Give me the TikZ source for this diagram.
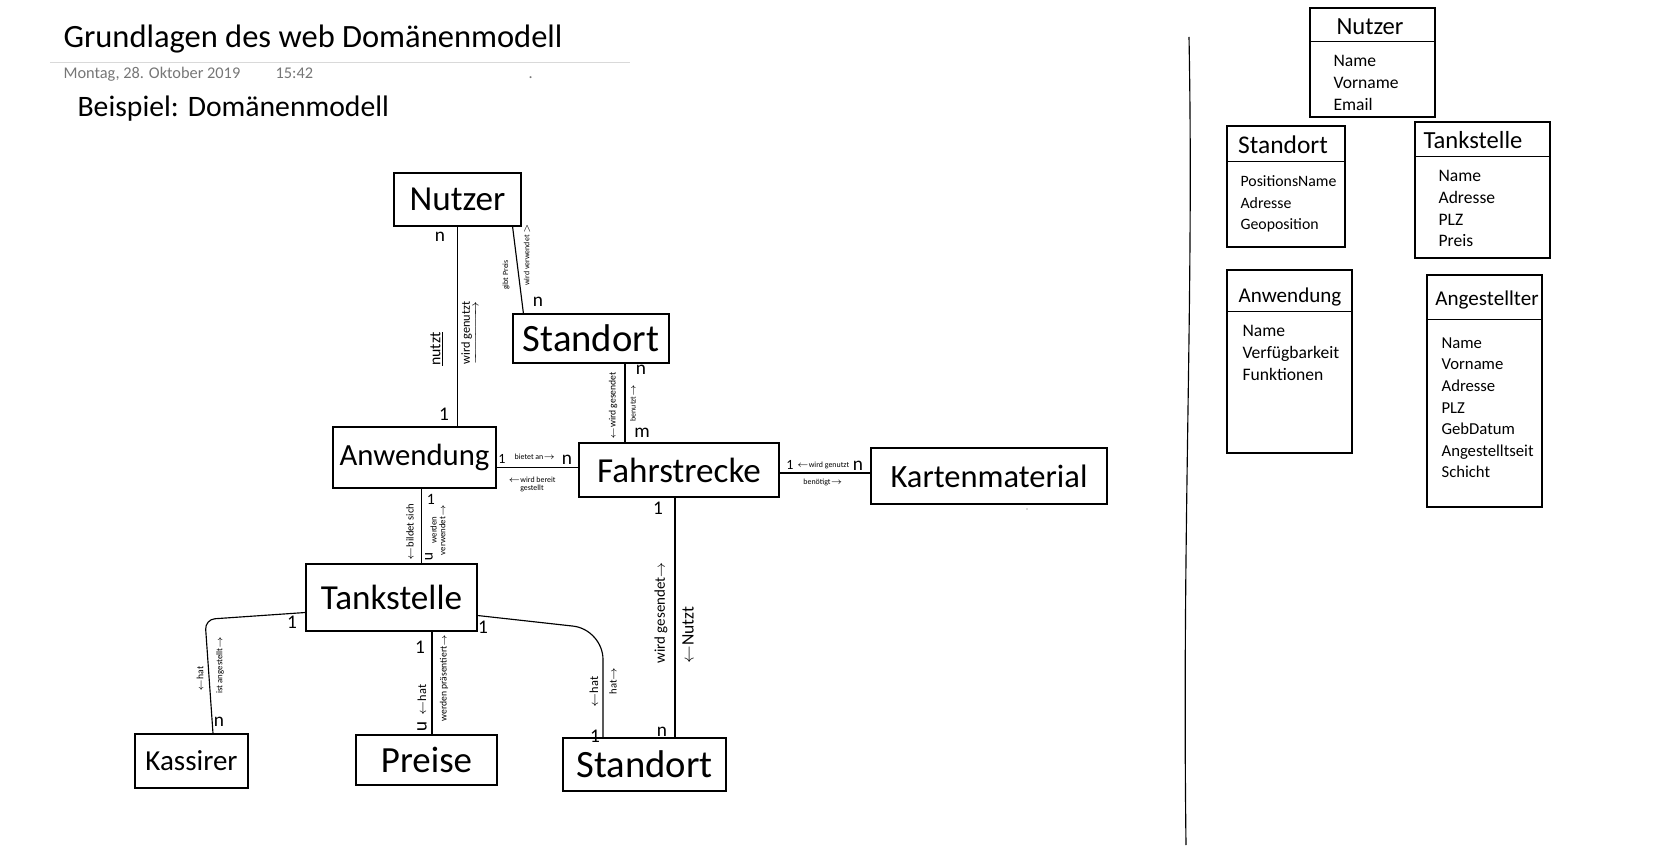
\documentclass[tikz,border=0pt]{standalone}
\usepackage{fontspec}
\setmainfont{Carlito}
\usepackage{amsmath}
\usetikzlibrary{calc, positioning}
\definecolor{dategray}{RGB}{118,118,118}
\definecolor{rulegray}{RGB}{217,217,217}
\tikzset{
x=0.02cm, y=-0.02cm, % one unit is one pixel of the page, y runs downwards
entity/.style={draw, inner sep=0pt, font=\fontsize{20}{20}\selectfont}, % boxes of the model
bsize/.style 2 args={minimum width=#1*0.02cm, minimum height=#2*0.02cm}, % box size in pixels
fs/.style={font=\fontsize{#1}{#1}\selectfont}, % another font size
card/.style={inner sep=0pt, font=\fontsize{11}{11}\selectfont}, % multiplicities
rel/.style={inner sep=0pt, align=center, font=\fontsize{#1}{#1}\selectfont}, % role texts
rel/.default=5,
clsbox/.style={draw, inner sep=0pt}, % classes on the right
ctitle/.style={inner sep=0pt, font=\fontsize{#1}{#1}\selectfont}, % class names
attr/.style={inner sep=0pt, align=left, anchor=north west, font=\fontsize{10}{12.3}\selectfont}, % attributes
}
\begin{document}
\begin{tikzpicture}[line width=0.65pt]
\useasboundingbox (0,0) rectangle (1673,847);

% header
\node[anchor=base west, inner sep=0pt, fs=18.5] (title) at (63,48) {Grundlagen des web Domänenmodell};
\draw[rulegray, line width=0.5pt] (50,62) -- (630,62);
\node[anchor=base west, inner sep=0pt, fs=9.3, text=dategray] (date) at (63,79) {Montag, 28. Oktober 2019};
\node[anchor=base west, inner sep=0pt, fs=9.3, text=dategray] (time) at (275,79) {15:42};
\node[anchor=base west, inner sep=0pt, fs=9.3, text=dategray] (dot) at (528,79) {.};
\node[anchor=base west, inner sep=0pt, fs=16.9] (bsp) at (77,117) {Beispiel: Domänenmodell};

% entities
\node[entity, bsize={127}{53}] (Nutzer) at (457.5,199.5) {Nutzer};
\node[entity, bsize={156}{49}, fs=22] (StandortO) at (591,338.5) {Standort};
\node[entity, bsize={163}{61}, fs=17.5] (Anwendung) at (414.5,457.5) {Anwendung};
\node[entity, bsize={200}{54}] (Fahrstrecke) at (679,470) {Fahrstrecke};
\node[entity, bsize={236}{56}, fs=18.5] (Kartenmaterial) at (989,476) {Kartenmaterial};
\node[entity, bsize={171}{67}] (Tankstelle) at (391.5,597.5) {Tankstelle};
\node[entity, bsize={113}{54}, fs=16.5] (Kassirer) at (191.5,761) {Kassirer};
\node[entity, bsize={141}{50}, fs=21] (Preise) at (426.5,760) {Preise};
\node[entity, bsize={163}{53}, fs=22] (StandortU) at (644.5,764.5) {Standort};

% connectors
\coordinate (na) at (Nutzer.south);
\draw (na) -- (na |- Anwendung.north);
\draw ($(Nutzer.south east)+(-9,0)$) -- ($(StandortO.north west)+(11,0)$);
\coordinate (sf) at ($(StandortO.south)+(34,0)$);
\draw (sf) -- (sf |- Fahrstrecke.north);
\coordinate (af) at ($(Anwendung.east)+(0,10)$);
\draw (af) -- (af -| Fahrstrecke.west);
\coordinate (fk) at ($(Fahrstrecke.east)+(0,3)$);
\draw (fk) -- (fk -| Kartenmaterial.west);
\coordinate (atk) at ($(Anwendung.south)+(7,0)$);
\draw (atk) -- (atk |- Tankstelle.north);
\draw[rounded corners=0.2cm] ($(Tankstelle.west)+(0,15)$) -- ($(Kassirer.north)+(13.5,-114)$) -- ($(Kassirer.north)+(21.5,0)$);
\coordinate (tp) at ($(Tankstelle.south)+(40.5,0)$);
\draw (tp) -- (tp |- Preise.north);
\draw[rounded corners=0.6cm] ($(Tankstelle.east)+(0,18)$) -- ($(StandortU.north)+(-41.5,-108)$) -- ($(StandortU.north)+(-41.5,0)$);
\coordinate (fsu) at ($(Fahrstrecke.south)+(-4,0)$);
\draw (fsu) -- (fsu |- StandortU.north);

% Nutzer - Anwendung
\node[card] (m1) at (440,237) {n};
\node[card] (m2) at (444,414) {1};
\node[rel=9, rotate=90] (r1) at (437,349) {\underline{nutzt}};
\node[rel=7, rotate=90] (r2) at (470,333) {$\underrightarrow{\text{wird genutzt}}$};
% Nutzer - Standort
\node[rel=4.5, rotate=90] (r3) at (506,275) {gibt Preis};
\node[rel=4.5, rotate=90] (r4) at (527,255) {wird verwendet $>$};
\node[card] (m3) at (538,302) {n};
% Standort - Fahrstrecke
\node[rel=5.5, rotate=90] (r5) at (613,406) {$\leftarrow$wird gesendet};
\node[rel=4.5, rotate=90] (r6) at (633,403) {benutzt$\rightarrow$};
\node[card] (m4) at (641,370) {n};
\node[card] (m5) at (642,433) {m};
% Anwendung - Fahrstrecke
\node[card, fs=8] (m6) at (502,459) {1};
\node[rel=4.5] (r7) at (535,457) {bietet an$\rightarrow$};
\node[card] (m7) at (567,460) {n};
\node[rel=4.5] (r8) at (532,484) {$\leftarrow$wird bereit\\ gestellt};
% Fahrstrecke - Kartenmaterial
\node[card, fs=8] (m8) at (790,465) {1};
\node[rel=4.5] (r9) at (823,465) {$\leftarrow$wird genutzt};
\node[card] (m9) at (858,466) {n};
\node[rel=4.5] (r10) at (823,482) {benötigt$\rightarrow$};
% Anwendung - Tankstelle
\node[rel=6, rotate=90] (r11) at (410,532) {$\leftarrow$bildet sich};
\node[rel=5, rotate=90] (r12) at (438,530) {werden\\ verwendet$\rightarrow$};
\node[card, fs=9] (m10) at (431,499) {1};
\node[card, fs=9, rotate=-90] (m11) at (429,557) {n};
% Tankstelle - Kassirer
\node[card] (m12) at (292,622) {1};
\node[rel=5.5, rotate=90] (r13) at (200,679) {$\leftarrow$hat};
\node[rel=5, rotate=90] (r14) at (220,665) {ist angestellt$\rightarrow$};
\node[card] (m13) at (219,722) {n};
% Tankstelle - Preise
\node[card] (m14) at (420,647) {1};
\node[rel=7, rotate=90] (r15) at (422,700) {$\leftarrow$hat};
\node[card, rotate=-90] (m15) at (422,727) {n};
\node[rel=5.5, rotate=90] (r16) at (444,678) {werden präsentiert$\rightarrow$};
% Tankstelle - Standort
\node[card] (m16) at (483,627) {1};
\node[card] (m17) at (595,736) {1};
\node[rel=7, rotate=90] (r17) at (594,692) {$\leftarrow$hat};
\node[rel=6, rotate=90] (r18) at (613,681) {hat$\rightarrow$};
% Fahrstrecke - Standort
\node[card] (m18) at (658,508) {1};
\node[rel=8.5, rotate=90] (r19) at (661,613) {wird gesendet$\rightarrow$};
\node[rel=10, rotate=90] (r20) at (688,635) {$\leftarrow$Nutzt};
\node[card] (m19) at (662,732) {n};

\fill[gray!60] (1027,509) circle (0.5pt);

% divider
\draw (1189,37) .. controls (1194,300) and (1182,520) .. (1186,845);

% classes
\node[clsbox, bsize={125}{109}] (cNutzer) at (1372.5,62.5) {};
\draw ($(cNutzer.north west)+(0,34)$) -- ($(cNutzer.north east)+(0,34)$);
\node[ctitle=14] (tNutzer) at (1370,27) {Nutzer};
\node[attr] (aNutzer) at (1333,55) {Name\\Vorname\\Email};

\node[clsbox, bsize={118}{121}] (cStandort) at (1286,186.5) {};
\draw ($(cStandort.north west)+(0,36)$) -- ($(cStandort.north east)+(0,36)$);
\node[ctitle=14.5] (tStandort) at (1283,145) {Standort};
\node[attr, font=\fontsize{9}{12.3}\selectfont] (aStandort) at (1240,175) {PositionsName\\Adresse\\Geoposition};

\node[clsbox, bsize={135}{136}] (cTankstelle) at (1482.5,190) {};
\draw ($(cTankstelle.north west)+(0,35)$) -- ($(cTankstelle.north east)+(0,35)$);
\node[ctitle=14] (tTankstelle) at (1473,140) {Tankstelle};
\node[attr] (aTankstelle) at (1438,170) {Name\\Adresse\\PLZ\\Preis};

\node[clsbox, bsize={125}{183}] (cAnwendung) at (1289.5,361.5) {};
\draw ($(cAnwendung.north west)+(0,42)$) -- ($(cAnwendung.north east)+(0,42)$);
\node[ctitle=12] (tAnwendung) at (1290,297) {Anwendung};
\node[attr] (aAnwendung) at (1242,325) {Name\\Verfügbarkeit\\Funktionen};

\node[clsbox, bsize={115}{232}] (cAngestellter) at (1484.5,391) {};
\draw ($(cAngestellter.north west)+(0,45)$) -- ($(cAngestellter.north east)+(0,45)$);
\node[ctitle=12] (tAngestellter) at (1487,300) {Angestellter};
\node[attr, font=\fontsize{9.5}{12.3}\selectfont] (aAngestellter) at (1441,337) {Name\\Vorname\\Adresse\\PLZ\\GebDatum\\Angestelltseit\\Schicht};
\end{tikzpicture}
\end{document}
